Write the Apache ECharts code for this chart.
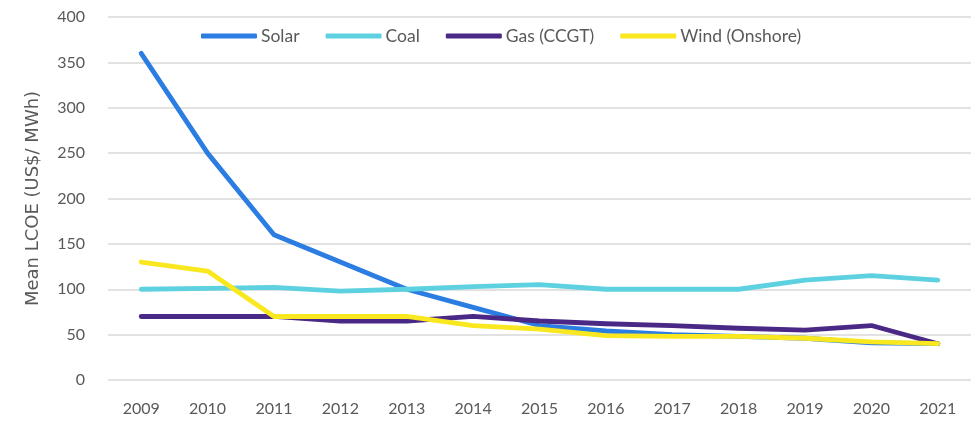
<!DOCTYPE html>
<html>
<head>
<meta charset="utf-8">
<script src="https://cdn.jsdelivr.net/npm/echarts@6/dist/echarts.min.js"></script>
<style>
  html, body { margin: 0; padding: 0; background: #fff; }
  #main { width: 971px; height: 422px; }
</style>
</head>
<body>
<div id="main"></div>
<script>
// 年份
const years = ['2009', '2010', '2011', '2012', '2013', '2014', '2015', '2016', '2017', '2018', '2019', '2020', '2021'];
// 各能源的平均度电成本
const solar = [360, 250, 160, 130, 100, 80, 60, 54, 50, 48, 46, 41, 40];
const coal = [100, 101, 102, 98, 100, 103, 105, 100, 100, 100, 110, 115, 110];
const gas = [70, 70, 70, 65, 65, 70, 65, 62, 60, 57, 55, 60, 40];
const wind = [130, 120, 70, 70, 70, 60, 56, 49, 48, 48, 46, 42, 40];

const chart = echarts.init(document.getElementById('main'));
const font = 'Lato, "DejaVu Sans", sans-serif';

const mkLine = (name, data, color) => ({
    name,
    type: 'line',
    data,
    symbol: 'none',
    lineStyle: { color, width: 4.8, cap: 'round', join: 'round' },
    itemStyle: { color }
});

const option = {
    animation: false,
    grid: { left: 108, right: 0, top: 17, bottom: 42 },
    legend: {
        top: 22,
        left: 196,
        itemWidth: 56,
        itemHeight: 5,
        itemGap: 26,
        icon: 'roundRect',
        textStyle: { color: '#595959', fontSize: 17.5, fontFamily: font, padding: [0, 0, 0, -1] },
        data: ['Solar', 'Coal', 'Gas (CCGT)', 'Wind (Onshore)']
    },
    xAxis: {
        type: 'category',
        data: years,
        boundaryGap: true,
        axisLine: { show: false },
        axisTick: { show: false },
        axisLabel: { color: '#595959', fontSize: 16, fontFamily: font, margin: 21 }
    },
    yAxis: {
        type: 'value',
        min: 0,
        max: 400,
        interval: 50,
        name: 'Mean LCOE (US$/ MWh)',
        nameLocation: 'middle',
        nameGap: 66,
        nameTextStyle: { color: '#595959', fontSize: 18, fontFamily: '"DejaVu Sans", sans-serif' },
        axisLabel: { color: '#595959', fontSize: 16, fontFamily: font, margin: 23 },
        splitLine: { lineStyle: { color: '#d9d9d9', width: 1.5 } }
    },
    series: [
        mkLine('Solar', solar, '#2b7de1'),
        mkLine('Coal', coal, '#5ed1e0'),
        mkLine('Gas (CCGT)', gas, '#4a2886'),
        mkLine('Wind (Onshore)', wind, '#f9e81f')
    ]
};

option && chart.setOption(option);
</script>
</body>
</html>
